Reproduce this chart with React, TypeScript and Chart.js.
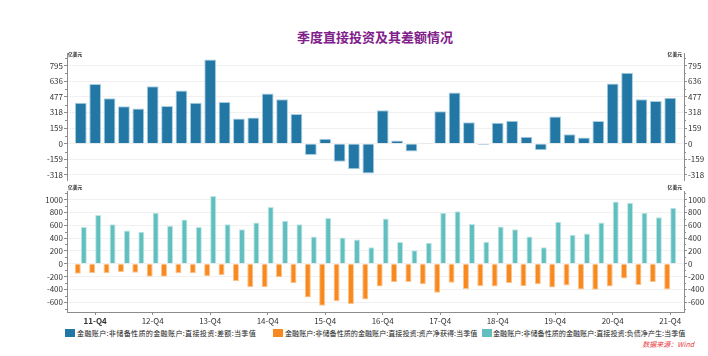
import React, { useEffect, useRef } from "react";
import { Chart, registerables } from "chart.js";

Chart.register(...registerables);

const FONT = '"Noto Sans CJK SC", "Noto Sans", sans-serif';

const quarters = [
  "11-Q3", "11-Q4",
  "12-Q1", "12-Q2", "12-Q3", "12-Q4",
  "13-Q1", "13-Q2", "13-Q3", "13-Q4",
  "14-Q1", "14-Q2", "14-Q3", "14-Q4",
  "15-Q1", "15-Q2", "15-Q3", "15-Q4",
  "16-Q1", "16-Q2", "16-Q3", "16-Q4",
  "17-Q1", "17-Q2", "17-Q3", "17-Q4",
  "18-Q1", "18-Q2", "18-Q3", "18-Q4",
  "19-Q1", "19-Q2", "19-Q3", "19-Q4",
  "20-Q1", "20-Q2", "20-Q3", "20-Q4",
  "21-Q1", "21-Q2", "21-Q3", "21-Q4",
];

// 差额 (net)
const netValues = [
  417, 608, 461, 381, 357, 585, 384, 541, 417, 855,
  424, 257, 267, 511, 451, 301, -114, 50, -184, -260,
  -304, 341, 33, -80, 7, 331, 521, 217, -13, 214,
  234, 70, -67, 277, 97, 63, 230, 611, 721, 451,
  434, 468,
];

// 资产净获得
const assetValues = [
  -156, -146, -151, -131, -141, -206, -206, -151, -151, -196,
  -181, -276, -367, -367, -211, -306, -528, -658, -588, -628,
  -558, -357, -291, -286, -322, -452, -296, -397, -352, -357,
  -302, -352, -322, -372, -342, -402, -407, -357, -231, -332,
  -286, -402,
];

// 负债净产生
const liabilityValues = [
  573, 759, 613, 518, 497, 794, 593, 688, 573, 1055,
  613, 538, 643, 884, 668, 613, 422, 714, 407, 377,
  256, 704, 337, 211, 327, 794, 819, 618, 342, 578,
  538, 422, 256, 653, 452, 472, 643, 970, 950, 794,
  724, 874,
];

const topTicks = [-318, -159, 0, 159, 318, 477, 636, 795];
const bottomTicks = [-600, -400, -200, 0, 200, 400, 600, 800, 1000];

const seriesNames = [
  "金融账户:非储备性质的金融账户:直接投资:差额:当季值",
  "金融账户:非储备性质的金融账户:直接投资:资产净获得:当季值",
  "金融账户:非储备性质的金融账户:直接投资:负债净产生:当季值",
];

const BLUE = "#2277a5";
const ORANGE = "#f7891f";
const TEAL = "#62bfbf";
const AXIS = "#8c8c8c";

const q4Index = quarters.map((q, i) => (q.endsWith("Q4") ? i : -1)).filter((i) => i >= 0);

const toPoints = (arr: number[]) => arr.map((v, i) => ({ x: i, y: v }));

const minorTicks = {
  id: "minorTicks",
  afterDraw(chart: any) {
    const ctx = chart.ctx;
    const area = chart.chartArea;
    ctx.save();
    ctx.strokeStyle = AXIS;
    ctx.lineWidth = 1;
    ["y", "y2"].forEach((id) => {
      const s = chart.scales[id];
      if (!s) return;
      const vals = s.ticks.map((t: any) => t.value);
      const step = vals[1] - vals[0];
      for (let v = vals[0] - step / 2; v <= s.max; v += step) {
        if (v < s.min) continue;
        const y = Math.round(s.getPixelForValue(v)) + 0.5;
        ctx.beginPath();
        if (id === "y") {
          ctx.moveTo(area.left - 2, y);
          ctx.lineTo(area.left, y);
        } else {
          ctx.moveTo(area.right, y);
          ctx.lineTo(area.right + 2, y);
        }
        ctx.stroke();
      }
    });
    ctx.restore();
  },
};

function yAxis(position: string, min: number, max: number, ticks: number[], width: number, grid: boolean) {
  return {
    type: "linear",
    position,
    min,
    max,
    afterBuildTicks: (s: any) => {
      s.ticks = ticks.map((v) => ({ value: v }));
    },
    afterFit: (s: any) => {
      s.width = width;
    },
    grid: {
      display: true,
      drawOnChartArea: grid,
      color: "#f1f1f1",
      tickColor: AXIS,
      tickLength: 3,
      lineWidth: 1,
    },
    border: { display: true, color: AXIS, width: 1 },
    ticks: {
      font: { size: 8, family: FONT },
      color: "#333",
      padding: 1,
      callback: (v: any) => String(v),
    },
  };
}

const X_MIN = -0.96;
const X_MAX = 41.96;

export default function App() {
  const topRef = useRef<HTMLCanvasElement>(null);
  const botRef = useRef<HTMLCanvasElement>(null);

  useEffect(() => {
    Chart.defaults.font.family = FONT;
    const top = new Chart(topRef.current as HTMLCanvasElement, {
      type: "bar",
      data: {
        datasets: [
          {
            label: seriesNames[0],
            data: toPoints(netValues),
            backgroundColor: BLUE,
            borderColor: "#a8cfe2",
            borderWidth: 1,
            categoryPercentage: 0.82,
            barPercentage: 1,
            yAxisID: "y",
          },
        ],
      },
      options: {
        responsive: false,
        maintainAspectRatio: false,
        animation: false,
        events: [],
        layout: { padding: { top: 53, bottom: 4, left: 0, right: 0 } },
        plugins: { legend: { display: false }, tooltip: { enabled: false }, title: { display: false } },
        scales: {
          x: { type: "linear", min: X_MIN, max: X_MAX, offset: false, display: false },
          y: yAxis("left", -371, 922, topTicks, 67, true),
          y2: yAxis("right", -371, 922, topTicks, 24, false),
        },
      } as any,
      plugins: [minorTicks],
    });

    const bot = new Chart(botRef.current as HTMLCanvasElement, {
      type: "bar",
      data: {
        datasets: [
          {
            label: seriesNames[1],
            data: toPoints(assetValues),
            backgroundColor: ORANGE,
            borderColor: "#fbc48e",
            borderWidth: 1,
            categoryPercentage: 0.84,
            barPercentage: 1,
            yAxisID: "y",
          },
          {
            label: seriesNames[2],
            data: toPoints(liabilityValues),
            backgroundColor: TEAL,
            borderColor: "#bfe6e6",
            borderWidth: 1,
            categoryPercentage: 0.84,
            barPercentage: 1,
            yAxisID: "y",
          },
        ],
      },
      options: {
        responsive: false,
        maintainAspectRatio: false,
        animation: false,
        events: [],
        layout: { padding: { top: 2, bottom: 0, left: 0, right: 0 } },
        plugins: { legend: { display: false }, tooltip: { enabled: false }, title: { display: false } },
        scales: {
          x: {
            type: "linear",
            min: X_MIN,
            max: X_MAX,
            offset: false,
            afterBuildTicks: (s: any) => {
              s.ticks = q4Index.map((v) => ({ value: v }));
            },
            afterFit: (s: any) => {
              s.height = 14;
            },
            grid: { drawOnChartArea: false, offset: false, tickLength: 3, tickColor: AXIS },
            border: { display: true, color: AXIS, width: 1 },
            ticks: {
              autoSkip: false,
              maxRotation: 0,
              padding: 1,
              color: "#333",
              callback: (v: any) => quarters[v],
              font: (ctx: any) => ({ size: 8, family: FONT, weight: ctx.index === 0 ? "bold" : "normal" }),
            },
          },
          y: yAxis("left", -754, 1121, bottomTicks, 67, true),
          y2: yAxis("right", -754, 1121, bottomTicks, 24, false),
        },
      } as any,
      plugins: [minorTicks],
    });

    return () => {
      top.destroy();
      bot.destroy();
    };
  }, []);

  const unit: React.CSSProperties = {
    position: "absolute",
    fontSize: "4.8px",
    lineHeight: "5px",
    fontWeight: "bold",
    color: "#222",
    fontFamily: FONT,
    whiteSpace: "nowrap",
  };
  const legendText: React.CSSProperties = {
    position: "absolute",
    top: 328,
    fontSize: "7.1px",
    lineHeight: "10px",
    color: "#222",
    fontFamily: FONT,
    whiteSpace: "nowrap",
  };
  const sq = (left: number, color: string): React.CSSProperties => ({
    position: "absolute",
    left,
    top: 329,
    width: 10,
    height: 8,
    background: color,
  });

  return (
    <div
      style={{
        position: "absolute",
        left: 0,
        top: 0,
        width: 708,
        height: 356,
        background: "#fff",
        overflow: "hidden",
        fontFamily: FONT,
      }}
    >
      <div
        style={{
          position: "absolute",
          left: 0,
          top: 29,
          width: 750,
          textAlign: "center",
          fontSize: "13px",
          lineHeight: "16px",
          fontWeight: "bold",
          color: "#80208a",
        }}
      >
        季度直接投资及其差额情况
      </div>
      <canvas ref={topRef} width={708} height={186} style={{ position: "absolute", left: 0, top: 0 }} />
      <canvas ref={botRef} width={708} height={140} style={{ position: "absolute", left: 0, top: 186 }} />
      <div style={{ ...unit, left: 68, top: 51 }}>亿美元</div>
      <div style={{ ...unit, right: 708 - 682, top: 51 }}>亿美元</div>
      <div style={{ ...unit, left: 68, top: 184 }}>亿美元</div>
      <div style={{ ...unit, right: 708 - 682, top: 184 }}>亿美元</div>

      <div style={sq(65, BLUE)} />
      <div style={{ ...legendText, left: 77, letterSpacing: "0.3px" }}>{seriesNames[0]}</div>
      <div style={sq(273, ORANGE)} />
      <div style={{ ...legendText, left: 285 }}>{seriesNames[1]}</div>
      <div style={sq(482, TEAL)} />
      <div style={{ ...legendText, left: 493 }}>{seriesNames[2]}</div>

      <div
        style={{
          position: "absolute",
          right: 708 - 694,
          top: 340,
          fontSize: "7px",
          lineHeight: "9px",
          fontStyle: "italic",
          color: "#e8383d",
          whiteSpace: "nowrap",
        }}
      >
        数据来源：Wind
      </div>
    </div>
  );
}
